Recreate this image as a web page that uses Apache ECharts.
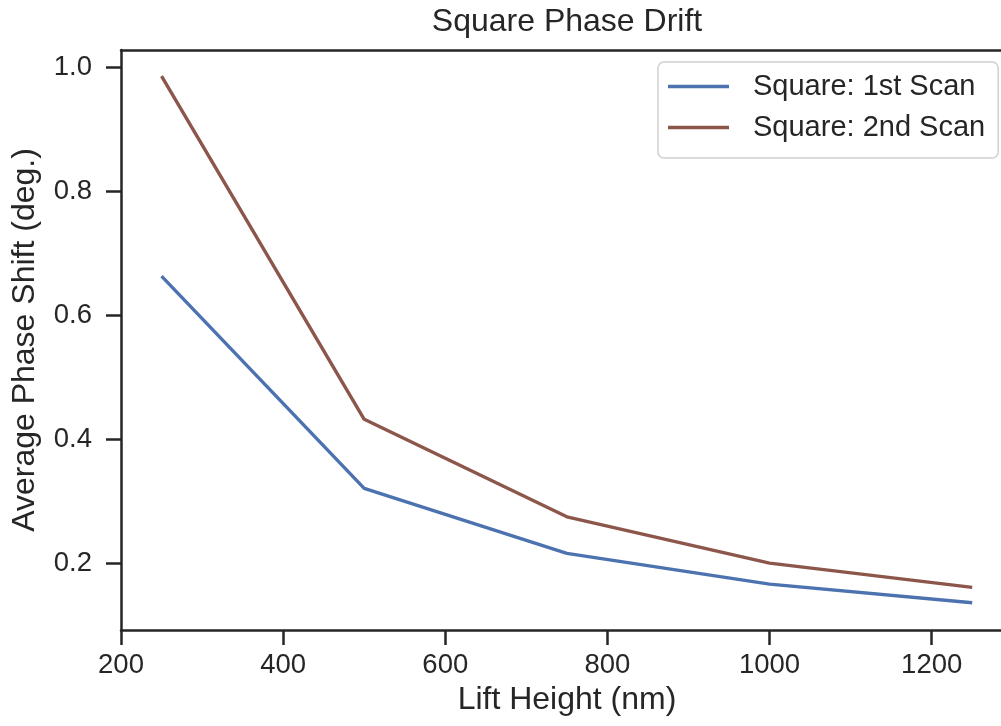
<!DOCTYPE html>
<html>
<head>
<meta charset="utf-8">
<script src="https://cdn.jsdelivr.net/npm/echarts@6/dist/echarts.min.js"></script>
<style>
  html, body { margin: 0; padding: 0; background: #fff; }
  #chart { width: 1001px; height: 726px; }
</style>
</head>
<body>
<div id="chart"></div>
<script>
// data
var liftHeight = [250, 500, 750, 1000, 1250];
var firstScan = [0.663, 0.3205, 0.2156, 0.166, 0.1359];
var secondScan = [0.986, 0.432, 0.2747, 0.200, 0.1607];
var xTicks = [200, 400, 600, 800, 1000, 1200];
var yTicks = [0.2, 0.4, 0.6, 0.8, 1.0];

var ink = '#262626';
var font = '"Liberation Sans", Arial, sans-serif';

var chart = echarts.init(document.getElementById('chart'));

function pairs(xs, ys) {
	return xs.map(function (x, i) { return [x, ys[i]]; });
}

// the plot runs past the right edge of the picture, so the axis ends at the edge
chart.setOption({
	animation: false,
	backgroundColor: '#ffffff',
	textStyle: { fontFamily: font, color: ink },
	title: {
		text: 'Square Phase Drift',
		left: 562,
		top: 1,
		textAlign: 'center',
		textStyle: { fontFamily: font, fontSize: 32, fontWeight: 'normal', color: ink }
	},
	grid: {
		left: 121,
		top: 50,
		right: 0,
		bottom: 96
	},
	legend: {
		orient: 'vertical',
		left: 658,
		top: 62,
		padding: [10, 13, 16, 10],
		icon: 'rect',
		itemWidth: 61,
		itemHeight: 3.5,
		itemGap: 12,
		backgroundColor: 'rgba(255,255,255,0.8)',
		borderColor: '#d0d0d0',
		borderWidth: 1.5,
		borderRadius: 6,
		textStyle: { fontFamily: font, fontSize: 29, color: ink, padding: [0, 0, 0, 19] },
		data: ['Square: 1st Scan', 'Square: 2nd Scan']
	},
	xAxis: [{
		type: 'value',
		min: 200,
		max: 1285.5,
		name: 'Lift Height (nm)',
		nameLocation: 'middle',
		nameGap: 40,
		nameTextStyle: { fontFamily: font, fontSize: 32, color: ink, padding: [0, 0, 0, 12] },
		splitLine: { show: false },
		axisLine: { show: true, lineStyle: { color: ink, width: 2.5 } },
		axisTick: { show: true, length: 15, lineStyle: { color: ink, width: 2.5 }, customValues: xTicks },
		axisLabel: {
			fontFamily: font, fontSize: 27.5, color: ink, margin: 21, customValues: xTicks,
			formatter: function (v) { return String(v); }
		}
	}, {
		type: 'value',
		position: 'top',
		min: 200,
		max: 1285.5,
		splitLine: { show: false },
		axisLine: { show: true, lineStyle: { color: ink, width: 2.5 } },
		axisTick: { show: false },
		axisLabel: { show: false }
	}],
	yAxis: {
		type: 'value',
		min: 0.092,
		max: 1.028,
		name: 'Average Phase Shift (deg.)',
		nameLocation: 'middle',
		nameRotate: 90,
		nameGap: 80,
		nameTextStyle: { fontFamily: font, fontSize: 32, color: ink },
		splitLine: { show: false },
		axisLine: { show: true, lineStyle: { color: ink, width: 2.5 } },
		axisTick: { show: true, length: 15, lineStyle: { color: ink, width: 2.5 }, customValues: yTicks },
		axisLabel: {
			fontFamily: font, fontSize: 27.5, color: ink, margin: 29, customValues: yTicks,
			formatter: function (v) { return v.toFixed(1); }
		}
	},
	series: [{
		name: 'Square: 1st Scan',
		type: 'line',
		symbol: 'none',
		color: '#4C72B0',
		lineStyle: { width: 3.4, color: '#4C72B0' },
		data: pairs(liftHeight, firstScan)
	}, {
		name: 'Square: 2nd Scan',
		type: 'line',
		symbol: 'none',
		color: '#8C564B',
		lineStyle: { width: 3.4, color: '#8C564B' },
		data: pairs(liftHeight, secondScan)
	}]
});
</script>
</body>
</html>
